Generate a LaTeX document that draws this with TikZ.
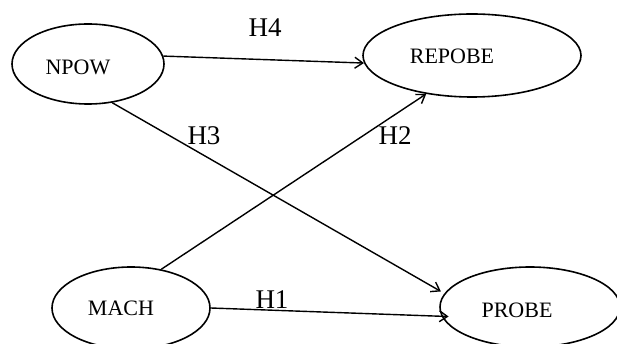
\documentclass[tikz,border=0pt]{standalone}
\usepackage{fontspec}
\setmainfont{Liberation Serif}
\usetikzlibrary{shapes.geometric,arrows.meta}
\begin{document}
\begin{tikzpicture}[x=1pt,y=-1pt,
  ell/.style={ellipse,draw,line width=1.6pt,inner sep=0pt},
  nodetxt/.style={inner sep=0pt,font=\fontsize{22}{26}\selectfont},
  hyp/.style={inner sep=0pt,font=\fontsize{27}{31}\selectfont},
  conn/.style={line width=1.4pt,-{Straight Barb[length=8pt,width=11pt,line width=1.4pt]}}]
\clip (0,0) rectangle (617,344);
% ellipses
\node[ell,minimum width=152pt,minimum height=80pt] (npow) at (88,64) {};
\node[ell,minimum width=218pt,minimum height=83pt] (repobe) at (472,55.5) {};
\node[ell,minimum width=158pt,minimum height=82pt] (mach) at (131,308) {};
\node[ell,minimum width=180pt,minimum height=80pt] (probe) at (530,307) {};
% texts
\node[nodetxt] (tnpow) at (78,67) {NPOW};
\node[nodetxt] (trepobe) at (452,56) {REPOBE};
\node[nodetxt] (tmach) at (121,308) {MACH};
\node[nodetxt] (tprobe) at (517,310) {PROBE};
% connectors
\draw[conn] (npow.6) -- (repobe.184.4);
\draw[conn,shorten >=4pt] (npow.-58) -- (probe.171);
\draw[conn] (mach.52) -- (repobe.220.4);
\draw[conn,shorten >=-7pt] (mach.0) -- (probe.186.4);
% hypothesis labels
\node[hyp] (h4) at (265,27.5) {H4};
\node[hyp] (h3) at (204,136) {H3};
\node[hyp] (h2) at (395,136) {H2};
\node[hyp] (h1) at (272,300) {H1};
\end{tikzpicture}
\end{document}
